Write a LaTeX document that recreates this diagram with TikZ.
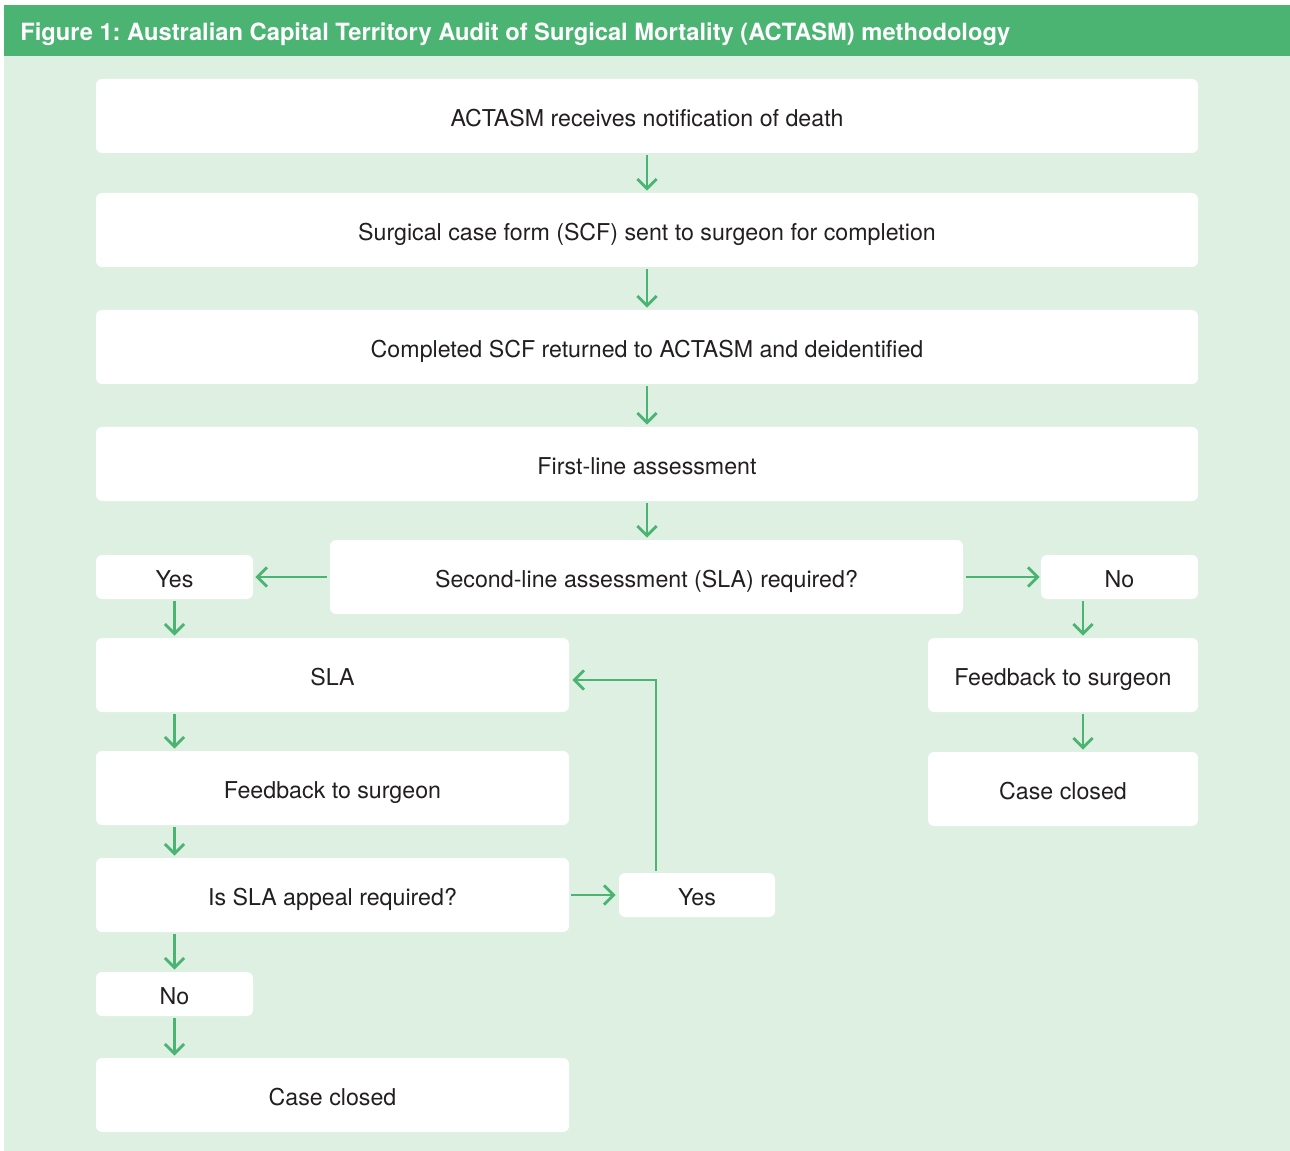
\documentclass[tikz,border=0pt]{standalone}
\usepackage{fontspec}
\setmainfont{TeX Gyre Heros}
\usepackage{tikz}
\usetikzlibrary{arrows.meta}
\definecolor{hdrgreen}{HTML}{4BB473}
\definecolor{bggreen}{HTML}{DEF0E2}
\definecolor{txtgray}{HTML}{231F20}
\frenchspacing

\begin{document}
\begin{tikzpicture}[
    x=0.02cm,y=-0.02cm,
    stepbox/.style={fill=white,rounded corners=3.5pt,inner sep=0pt,
      minimum height=74*0.02cm,text height=12.3pt,text depth=0pt,
      font=\fontsize{13.2}{15}\selectfont\color{txtgray}},
    smallbox/.style={stepbox,minimum height=44*0.02cm,minimum width=157*0.02cm},
    flow/.style={draw=hdrgreen,line width=1.6pt,
      -{Straight Barb[length=5.5pt,width=11pt,line width=1.6pt]}},
  ]
  \useasboundingbox (0,0) rectangle (1290,1151);
  \fill[bggreen] (4,56) rectangle (1290,1151);
  \fill[hdrgreen] (4,5) rectangle (1290,56);
  \node[anchor=base west,inner sep=0pt,text=white,font=\bfseries\fontsize{13.5}{15}\selectfont] (title) at (20,41)
    {Figure 1: Australian Capital Territory Audit of Surgical Mortality (ACTASM) methodology};

  % main column
  \node[stepbox,minimum width=1102*0.02cm] (notify) at (647,116) {ACTASM receives notification of death};
  \node[stepbox,minimum width=1102*0.02cm] (scf) at (647,230) {Surgical case form (SCF) sent to surgeon for completion};
  \node[stepbox,minimum width=1102*0.02cm] (returned) at (647,347) {Completed SCF returned to ACTASM and deidentified};
  \node[stepbox,minimum width=1102*0.02cm] (first) at (647,464) {First-line assessment};
  \node[stepbox,minimum width=633*0.02cm] (slareq) at (646.5,577) {Second-line assessment (SLA) required?};
  \node[smallbox] (yesA) at (174.5,577) {Yes};
  \node[smallbox] (noA) at (1119.5,577) {No};

  % left branch
  \node[stepbox,minimum width=473*0.02cm] (sla) at (332.5,675) {SLA};
  \node[stepbox,minimum width=473*0.02cm] (fbL) at (332.5,788) {Feedback to surgeon};
  \node[stepbox,minimum width=473*0.02cm] (appeal) at (332.5,895) {Is SLA appeal required?};
  \node[smallbox,minimum width=156*0.02cm] (yesB) at (697,895) {Yes};
  \node[smallbox] (noB) at (174.5,994) {No};
  \node[stepbox,minimum width=473*0.02cm] (closedL) at (332.5,1095) {Case closed};

  % right branch
  \node[stepbox,minimum width=270*0.02cm] (fbR) at (1063,675) {Feedback to surgeon};
  \node[stepbox,minimum width=270*0.02cm] (closedR) at (1063,789) {Case closed};
  \coordinate (rcol) at (1083,0);

  \draw[flow] ([yshift=-0.04cm]notify.south) -- ([yshift=0.04cm]scf.north);
  \draw[flow] ([yshift=-0.04cm]scf.south) -- ([yshift=0.04cm]returned.north);
  \draw[flow] ([yshift=-0.04cm]returned.south) -- ([yshift=0.04cm]first.north);
  \draw[flow] ([yshift=-0.04cm]first.south) -- ([yshift=0.04cm]slareq.north -| first.south);
  \draw[flow] ([xshift=-0.06cm]slareq.west) -- ([xshift=0.04cm]yesA.east);
  \draw[flow] ([xshift=0.06cm]slareq.east) -- ([xshift=-0.02cm]noA.west);
  \draw[flow] ([yshift=-0.04cm]yesA.south) -- ([yshift=0.04cm]sla.north -| yesA.south);
  \draw[flow] ([yshift=-0.04cm]sla.south -| yesA.south) -- ([yshift=0.04cm]fbL.north -| yesA.south);
  \draw[flow] ([yshift=-0.04cm]fbL.south -| yesA.south) -- ([yshift=0.04cm]appeal.north -| yesA.south);
  \draw[flow] ([yshift=-0.04cm]appeal.south -| yesA.south) -- ([yshift=0.04cm]noB.north);
  \draw[flow] ([yshift=-0.04cm]noB.south) -- ([yshift=0.04cm]closedL.north -| noB.south);
  \draw[flow] ([xshift=0.04cm]appeal.east) -- ([xshift=-0.06cm]yesB.west);
  \draw[flow] ([xshift=-0.82cm,yshift=0.04cm]yesB.north) |- ([xshift=0.06cm,yshift=-0.1cm]sla.east);
  \draw[flow] ([yshift=-0.04cm]noA.south -| rcol) -- ([yshift=0.04cm]fbR.north -| rcol);
  \draw[flow] ([yshift=-0.04cm]fbR.south -| rcol) -- ([yshift=0.04cm]closedR.north -| rcol);
\end{tikzpicture}
\end{document}
